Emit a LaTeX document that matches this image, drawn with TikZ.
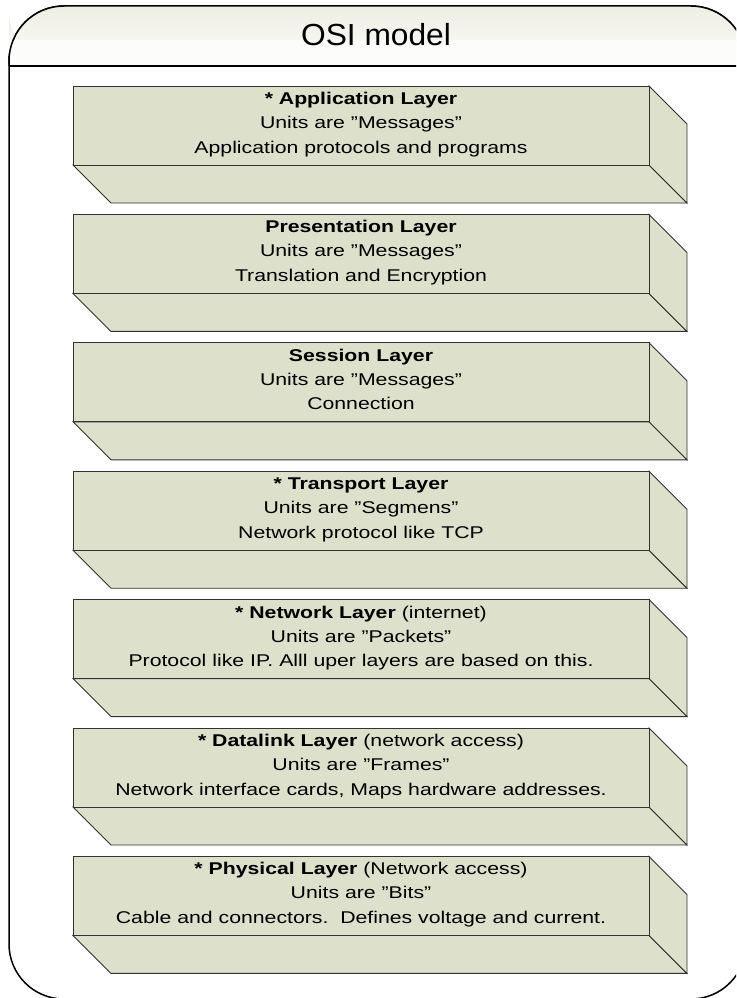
\documentclass[tikz,border=0pt]{standalone}
\usepackage{fontspec}
\setmainfont{Liberation Sans}
\newfontfamily\boxfont{Liberation Sans}[FakeStretch=1.25]
\newfontfamily\titlefont{Liberation Sans}[FakeStretch=1.04]
\definecolor{layerfill}{RGB}{221,224,203}
\definecolor{layeredge}{RGB}{50,50,50}
\definecolor{headtop}{RGB}{238,238,228}
\definecolor{headbot}{RGB}{252,252,250}
\tikzset{
  layerface/.style={fill=layerfill, draw=layeredge, line width=0.9pt, line join=miter},
  layertext/.style={anchor=base, inner sep=0pt, text=black, font=\boxfont\fontsize{17}{21}\selectfont},
  frame/.style={draw=black, line width=1.5pt},
}
\newcommand\osilayer[5]{%
  \path[layerface] (73,{#2+79}) -- (649,{#2+79}) -- (687,{#2+117}) -- (111,{#2+117}) -- cycle;
  \path[layerface] (649,#2) -- (687,{#2+38}) -- (687,{#2+117}) -- (649,{#2+79}) -- cycle;
  \path[layerface] (73,#2) rectangle (649,{#2+79});
  \node[layertext] (#1a) at (361,{#2+18.5}) {#3};
  \node[layertext] (#1b) at (361,{#2+42.5}) {#4};
  \node[layertext] (#1c) at (361,{#2+67}) {#5};
}
\begin{document}
\begin{tikzpicture}[x=1pt,y=-1pt]
\useasboundingbox (0,0) rectangle (736,998);
\clip (0,0) rectangle (736,998);
% outer frame
\path[frame, fill=white, rounded corners=55pt] (9,6) rectangle (746,999);
\path[top color=headtop, bottom color=headbot, rounded corners=55pt] (9,6) -- (746,6) -- (746,66) -- (9,66) -- cycle;
\fill[headbot] (9,40) rectangle (746,66);
\draw[frame, rounded corners=55pt] (9,66) -- (9,6) -- (746,6) -- (746,66);
\draw[frame] (9,66) -- (746,66);
\node[anchor=base, inner sep=0pt, font=\titlefont\fontsize{30.5}{34}\selectfont] (title) at (376,45.5) {OSI model};
% layers
\osilayer{L1}{86}{\textbf{* Application Layer}}{Units are ”Messages”}{Application protocols and programs}
\osilayer{L2}{214.4}{\textbf{Presentation Layer}}{Units are ”Messages”}{Translation and Encryption}
\osilayer{L3}{342.8}{\textbf{Session Layer}}{Units are ”Messages”}{Connection}
\osilayer{L4}{471.2}{\textbf{* Transport Layer}}{Units are ”Segmens”}{Network protocol like TCP}
\osilayer{L5}{599.6}{\textbf{* Network Layer} (internet)}{Units are ”Packets”}{Protocol like IP. Alll uper layers are based on this.}
\osilayer{L6}{728}{\textbf{* Datalink Layer} (network access)}{Units are ”Frames”}{Network interface cards, Maps hardware addresses.}
\osilayer{L7}{856.4}{\textbf{* Physical Layer} (Network access)}{Units are ”Bits”}{Cable and connectors.\ \ Defines voltage and current.}
\end{tikzpicture}
\end{document}
